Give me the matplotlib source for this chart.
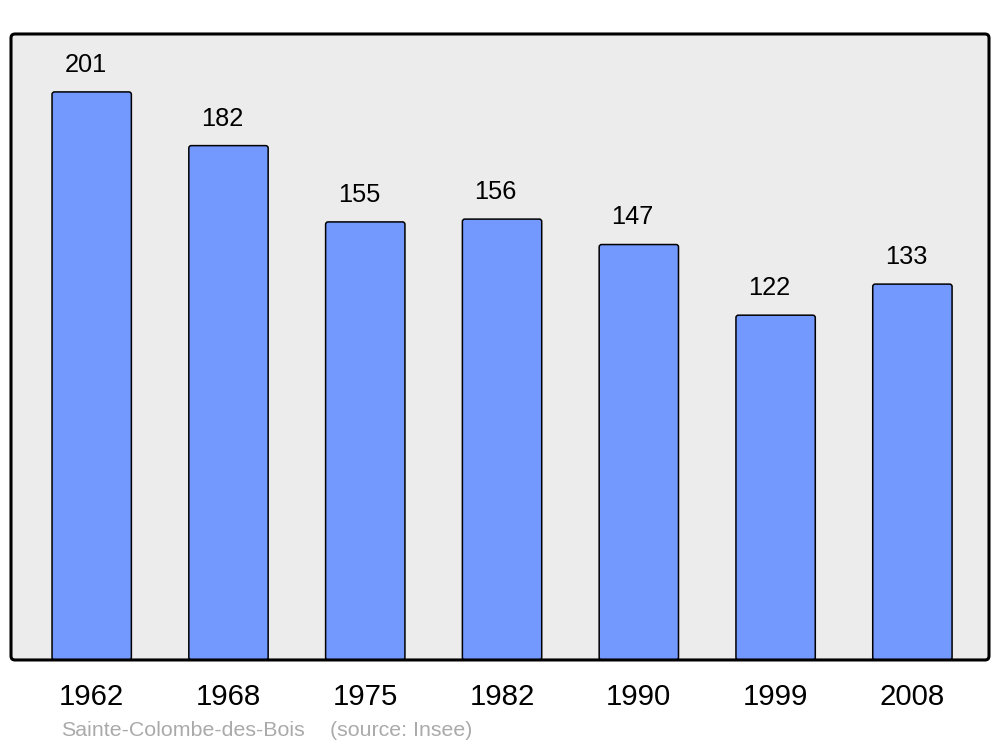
import matplotlib.pyplot as plt
from matplotlib.patches import FancyBboxPatch

years = ["1962", "1968", "1975", "1982", "1990", "1999", "2008"]
population = [201, 182, 155, 156, 147, 122, 133]

plt.rcParams['font.family'] = ['Liberation Sans', 'DejaVu Sans']

fig = plt.figure(figsize=(10, 7.47), dpi=100)
ax = fig.add_axes([0.011, 0.1165, 0.978, 0.838])
ax.set_facecolor('#ececec')

ax.set_xlim(-0.59, 6.56)
ax.set_ylim(0, 221.5)

x = list(range(len(years)))
bars = ax.bar(x, population, width=0.58, color='#7399ff', edgecolor='black', linewidth=1.1, zorder=2)

# swap the plain rectangles for slightly rounded ones (same bounds)
px_x = 978 / (6.56 + 0.59)
px_y = 626 / 221.5
for b in bars:
    b.set_visible(False)
    rb = FancyBboxPatch((b.get_x(), b.get_y()), b.get_width(), b.get_height(),
                        boxstyle="round,pad=0,rounding_size=%f" % (2.5 / px_x),
                        mutation_aspect=px_x / px_y,
                        facecolor='#7399ff', edgecolor='black', linewidth=1.1, zorder=2)
    ax.add_patch(rb)

for xi, v in zip(x, population):
    ax.annotate(str(v), (xi, v), xytext=(-4.5, 19.5), textcoords='offset points',
                ha='center', va='center', fontsize=18.3)
    ax.annotate(years[xi], (xi, 0), xytext=(0, -26.5), textcoords='offset points',
                ha='center', va='center', fontsize=21.2, annotation_clip=False)

ax.set_xticks([])
ax.set_yticks([])
for s in ax.spines.values():
    s.set_visible(False)

frame = FancyBboxPatch((0, 0), 1, 1, boxstyle="round,pad=0,rounding_size=%f" % (4 / 978),
                       mutation_aspect=978 / 626, transform=ax.transAxes,
                       facecolor='none', edgecolor='black', linewidth=2.2, zorder=5, clip_on=False)
ax.add_patch(frame)

fig.text(0.061, 1 - 731 / 747, "Sainte-Colombe-des-Bois", color='#aaaaaa', fontsize=15.4, va='center')
fig.text(0.330, 1 - 731 / 747, "(source: Insee)", color='#aaaaaa', fontsize=15.4, va='center')

fig.savefig('out.png', dpi=100)
